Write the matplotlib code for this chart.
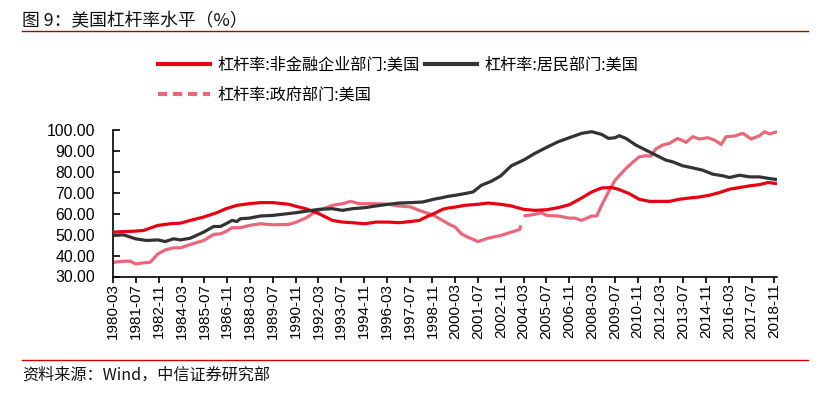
import numpy as np
import matplotlib
matplotlib.use("Agg")
import matplotlib.pyplot as plt
from matplotlib.lines import Line2D

# ---------------- data ----------------
corp_t = [1980.17, 1981.48, 1981.93, 1982.77, 1983.49, 1984.10, 1984.67, 1985.45, 1986.23, 1986.76,
          1987.40, 1988.13, 1988.77, 1989.50, 1990.44, 1990.87, 1991.42, 1992.20, 1992.98, 1993.57,
          1994.15, 1994.90, 1995.52, 1996.25, 1996.89, 1997.58, 1998.06, 1998.46, 1998.91, 1999.43,
          1999.74, 2000.17, 2000.72, 2001.50, 2002.09, 2002.83, 2003.45, 2004.16, 2004.82, 2005.51,
          2006.19, 2006.84, 2007.56, 2008.15, 2008.73, 2009.32, 2009.71, 2010.34, 2010.93, 2011.52,
          2012.10, 2012.69, 2013.27, 2013.86, 2014.45, 2015.03, 2015.62, 2016.21, 2016.79, 2017.38,
          2017.97, 2018.46, 2019.00]
corp_v = [51.2, 51.7, 52.0, 54.4, 55.2, 55.5, 56.8, 58.4, 60.5, 62.4,
          64.0, 64.8, 65.3, 65.3, 64.5, 63.5, 62.4, 60.0, 56.8, 56.0,
          55.7, 55.2, 56.0, 56.0, 55.7, 56.3, 56.8, 58.4, 60.0, 62.1,
          62.7, 63.2, 64.0, 64.5, 65.1, 64.5, 63.7, 62.1, 61.6, 61.9,
          62.9, 64.3, 67.5, 70.4, 72.3, 72.5, 71.7, 69.6, 66.9, 65.9,
          65.9, 65.9, 66.9, 67.5, 68.0, 68.8, 70.1, 71.7, 72.5, 73.3,
          73.9, 74.9, 74.4]

hh_t = [1980.17, 1980.76, 1981.48, 1982.12, 1982.77, 1983.20, 1983.69, 1984.10, 1984.67, 1985.45,
        1986.04, 1986.43, 1986.76, 1987.11, 1987.40, 1987.60, 1988.13, 1988.77, 1989.50, 1990.87,
        1992.20, 1992.98, 1993.57, 1994.15, 1994.90, 1995.52, 1996.25, 1996.89, 1997.58, 1998.26,
        1998.91, 1999.43, 1999.74, 2000.17, 2000.72, 2001.21, 2001.70, 2002.28, 2002.83, 2003.45,
        2004.16, 2004.82, 2005.51, 2006.19, 2006.84, 2007.56, 2008.15, 2008.73, 2009.13, 2009.52,
        2009.76, 2010.15, 2010.73, 2011.32, 2011.90, 2012.49, 2012.88, 2013.47, 2014.05, 2014.64,
        2015.23, 2015.82, 2016.21, 2016.79, 2017.38, 2017.97, 2018.55, 2019.00]
hh_v = [49.6, 49.9, 48.0, 47.2, 47.5, 46.7, 48.0, 47.5, 48.3, 51.2,
        53.9, 53.9, 55.2, 56.8, 56.3, 57.6, 57.9, 58.9, 59.2, 60.5,
        62.1, 62.4, 61.6, 62.4, 62.9, 63.7, 64.5, 65.1, 65.3, 65.6,
        66.9, 67.7, 68.3, 68.8, 69.6, 70.4, 73.6, 75.5, 78.1, 82.9,
        85.6, 88.8, 91.7, 94.4, 96.3, 98.4, 99.2, 97.9, 96.0, 96.3,
        97.3, 96.0, 92.8, 90.4, 88.0, 85.6, 84.8, 82.9, 81.9, 80.8,
        78.9, 78.1, 77.3, 78.4, 77.6, 77.6, 76.8, 76.3]

gov_t = [1980.17, 1980.76, 1981.15, 1981.48, 1981.93, 1982.32, 1982.77, 1983.20, 1983.69, 1984.10,
         1984.67, 1985.45, 1986.04, 1986.43, 1986.76, 1987.11, 1987.60, 1988.13, 1988.77, 1989.50,
         1990.44, 1990.87, 1991.42, 1991.81, 1992.20, 1992.98, 1993.57, 1994.06, 1994.55, 1995.52,
         1996.25, 1996.89, 1997.58, 1998.06, 1998.46, 1998.91, 1999.43, 1999.82, 2000.17, 2000.52,
         2000.91, 2001.50, 2002.09, 2002.83, 2003.45, 2003.94, 2004.00, 2004.08, 2004.16, 2004.82,
         2005.21, 2005.51, 2006.19, 2006.84, 2007.17, 2007.56, 2008.15, 2008.44, 2008.73, 2009.13,
         2009.52, 2010.15, 2010.54, 2010.93, 2011.32, 2011.61, 2011.90, 2012.30, 2012.69, 2013.18,
         2013.67, 2014.06, 2014.45, 2014.94, 2015.33, 2015.72, 2016.01, 2016.50, 2016.99, 2017.48,
         2017.97, 2018.26, 2018.55, 2019.00]
gov_v = [36.8, 37.3, 37.3, 36.0, 36.5, 36.8, 40.8, 42.7, 43.7, 43.7,
         45.3, 47.2, 50.1, 50.4, 51.5, 53.3, 53.3, 54.4, 55.2, 54.7,
         54.9, 56.0, 57.9, 60.0, 61.6, 64.0, 64.8, 65.9, 64.8, 64.8,
         64.5, 63.7, 63.2, 61.6, 60.5, 59.2, 56.8, 54.9, 53.6, 50.4,
         48.8, 46.7, 48.3, 49.6, 51.2, 52.5, 54.4, np.nan, 58.9, 59.7,
         60.5, 59.2, 58.9, 57.9, 57.9, 56.8, 58.9, 58.9, 64.0, 70.4,
         76.0, 81.6, 84.5, 87.2, 87.7, 87.5, 90.9, 92.8, 93.6, 96.0,
         94.1, 96.8, 95.7, 96.3, 95.2, 93.1, 96.8, 97.1, 98.4, 95.7,
         97.3, 99.2, 98.1, 99.2]

series_names = ["杠杆率:非金融企业部门:美国", "杠杆率:居民部门:美国", "杠杆率:政府部门:美国"]

x_tick_labels = ["1980-03", "1981-07", "1982-11", "1984-03", "1985-07", "1986-11", "1988-03",
                 "1989-07", "1990-11", "1992-03", "1993-07", "1994-11", "1996-03", "1997-07",
                 "1998-11", "2000-03", "2001-07", "2002-11", "2004-03", "2005-07", "2006-11",
                 "2008-03", "2009-07", "2010-11", "2012-03", "2013-07", "2014-11", "2016-03",
                 "2017-07", "2018-11"]
y_ticks = [30, 40, 50, 60, 70, 80, 90, 100]

title = "图 9：美国杠杆率水平（%）"
source = "资料来源：Wind，中信证券研究部"

# ---------------- styling ----------------
CJK = ["Noto Sans CJK SC", "DejaVu Sans"]
NUM = ["Liberation Sans", "DejaVu Sans"]
plt.rcParams['font.family'] = CJK

RED = "#E60012"
DARK = "#333333"
PINK = "#E8687A"

W, H = 828, 395
fig = plt.figure(figsize=(W / 100, H / 100), dpi=100)

ax_l, ax_r = 113.3 / W, 777.2 / W
ax_t, ax_b = 1 - 130 / H, 1 - 276.5 / H
ax = fig.add_axes([ax_l, ax_b, ax_r - ax_l, ax_t - ax_b])

ax.plot(corp_t, corp_v, color=RED, lw=2.3, solid_capstyle='round', zorder=3)
ax.plot(hh_t, hh_v, color=DARK, lw=2.3, solid_capstyle='round', zorder=3)
ax.plot(gov_t, gov_v, color=PINK, lw=2.3, solid_capstyle='butt', zorder=2)

ax.set_xlim(1980.167, 2019.0)
ax.set_ylim(30, 100)

def ym(s):
    y, m = s.split("-")
    return int(y) + (int(m) - 1) / 12

ax.set_xticks([ym(s) for s in x_tick_labels])
ax.set_xticklabels(x_tick_labels, rotation=90, fontfamily=NUM, fontsize=11)
ax.set_yticks(y_ticks)
ax.set_yticklabels([f"{v:.2f}" for v in y_ticks], fontfamily=NUM, fontsize=11.3)

for s in ["top", "right"]:
    ax.spines[s].set_visible(False)
for s in ["left", "bottom"]:
    ax.spines[s].set_linewidth(1.2)
    ax.spines[s].set_color("black")
ax.tick_params(axis='y', direction='in', length=5, width=1.2, pad=13)
ax.tick_params(axis='x', direction='out', length=4, width=1.2, pad=1)

# legend
handles = [Line2D([], [], color=RED, lw=3),
           Line2D([], [], color=PINK, lw=3, ls=(0, (2.2, 1.4))),
           Line2D([], [], color=DARK, lw=3)]
labels = [series_names[0], series_names[2], series_names[1]]
leg = fig.legend(handles, labels, ncol=2, loc='upper left',
                 bbox_to_anchor=(158 / W, 1 - 57 / H), frameon=False,
                 prop={'family': CJK, 'size': 11.6}, handlelength=3.25,
                 handletextpad=0.44, columnspacing=0.3, labelspacing=0.8,
                 borderaxespad=0, borderpad=0)

# title, rules, source
fig.text(22 / W, 1 - 21 / H, title, fontsize=12.8, va='center', ha='left', color='#111111')
fig.add_artist(Line2D([22 / W, 808 / W], [1 - 31 / H, 1 - 31 / H], color="#A80000", lw=1.0))
fig.add_artist(Line2D([22 / W, 808 / W], [1 - 360 / H, 1 - 360 / H], color="#D00000", lw=1.0))
fig.text(22 / W, 1 - 375 / H, source, fontsize=11.6, va='center', ha='left', color='#111111')

fig.savefig("out.png", dpi=100)
